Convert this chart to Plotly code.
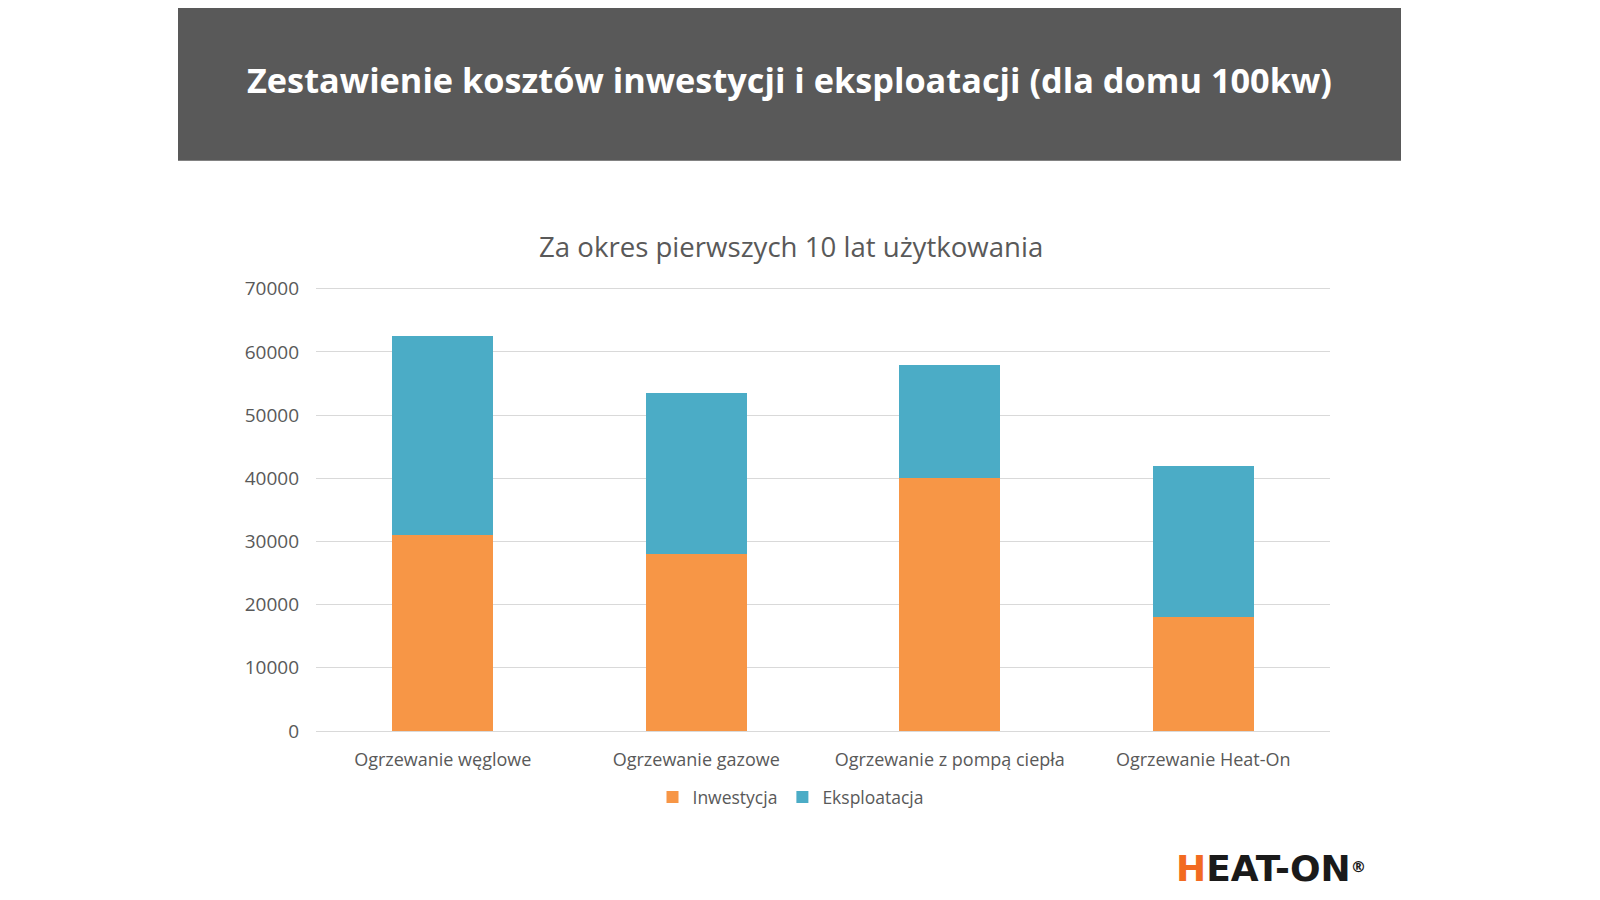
import plotly.graph_objects as go

categories = ["Ogrzewanie węglowe", "Ogrzewanie gazowe", "Ogrzewanie z pompą ciepła", "Ogrzewanie Heat-On"]
inwestycja = [31000, 28000, 40000, 18000]
eksploatacja = [31500, 25500, 18000, 24000]
y_ticks = [0, 10000, 20000, 30000, 40000, 50000, 60000, 70000]

W, H = 1600, 900
OFF = 8  # page body margin shifts the figure
Y_MAX = 70600
# 0 and 70000 lines in page pixels
Y0_PX, Y70_PX = 731, 289
# plot area in pixels (figure coords)
L, R = 316 - OFF, 1330 - OFF
B = Y0_PX - OFF
T = B - (Y0_PX - Y70_PX) * Y_MAX / 70000


def px(x):
    return (x - OFF - L) / (R - L)


def py(y):
    return (B - (y - OFF)) / (B - T)


fig = go.Figure()

fig.add_trace(go.Bar(
    x=categories, y=inwestycja, name="Inwestycja",
    marker=dict(color="#f79646", line=dict(width=0))
))
fig.add_trace(go.Bar(
    x=categories, y=eksploatacja, name="Eksploatacja",
    marker=dict(color="#4bacc6", line=dict(width=0))
))

# dark header band
fig.add_shape(type="rect", xref="paper", yref="paper",
              x0=px(178), x1=px(1401), y0=py(161), y1=py(7),
              fillcolor="#595959", line=dict(width=0), layer="below")

fig.add_annotation(
    text="<b>Zestawienie kosztów inwestycji i eksploatacji (dla domu 100kw)</b>",
    xref="paper", yref="paper", x=px(789), y=py(80),
    showarrow=False, font=dict(family="Open Sans", size=34.3, color="white"),
    xanchor="center", yanchor="middle"
)

fig.add_annotation(
    text="Za okres pierwszych 10 lat użytkowania",
    xref="paper", yref="paper", x=px(791), y=py(246),
    showarrow=False, font=dict(family="Open Sans", size=27.6, color="#595959"),
    xanchor="center", yanchor="middle"
)

# logo
fig.add_annotation(
    text="<b><span style='color:#f26a21'>H</span>EAT-ON</b><span style='font-size:22px'><sup><b>®</b></sup></span>",
    xref="paper", yref="paper", x=px(1368), y=py(868),
    showarrow=False, font=dict(family="DejaVu Sans", size=36, color="#1a1a1a"),
    xanchor="right", yanchor="middle"
)

fig.update_layout(
    width=W, height=H,
    barmode="stack", bargap=0.6,
    paper_bgcolor="white", plot_bgcolor="white",
    margin=dict(l=L, r=W - R, t=T, b=H - B, pad=0),
    font=dict(family="Open Sans", color="#595959"),
    showlegend=True,
    legend=dict(orientation="h", x=px(791), y=py(797), xanchor="center", yanchor="middle",
                font=dict(size=17.5, color="#595959"), traceorder="normal"),
    xaxis=dict(showgrid=False, showline=True, linecolor="#d9d9d9", linewidth=1,
               tickfont=dict(size=18, color="#595959"), ticks="", ticklabelstandoff=12),
    yaxis=dict(range=[0, Y_MAX], tickvals=y_ticks, ticktext=[str(v) for v in y_ticks],
               showgrid=True, gridcolor="#d9d9d9", gridwidth=1, zeroline=False,
               tickfont=dict(size=19, color="#595959"), ticks="", ticklabelstandoff=16),
)

fig.write_html("out.html")
